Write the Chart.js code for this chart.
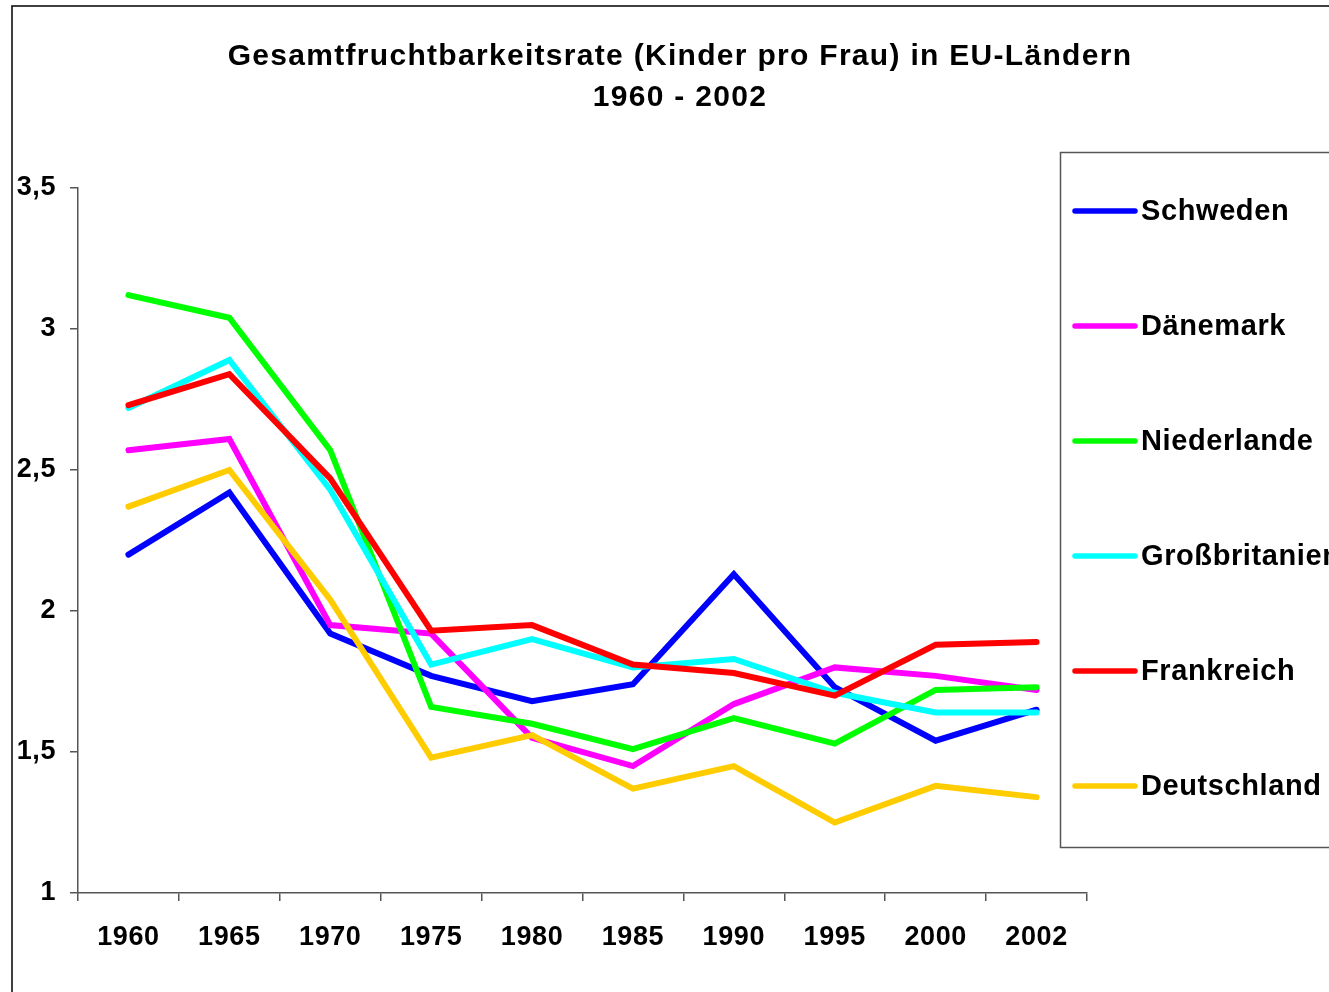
<!DOCTYPE html>
<html>
<head>
<meta charset="utf-8">
<script src="https://cdn.jsdelivr.net/npm/chart.js@4.4.1/dist/chart.umd.min.js"></script>
<style>
  html, body { margin: 0; padding: 0; background: #fff; overflow: hidden; }
  #wrap { width: 1329px; height: 992px; }
</style>
</head>
<body>
<div id="wrap"><canvas id="fertilityChart" width="1329" height="992"></canvas></div>
<script>
// Gesamtfruchtbarkeitsrate, Werte
const years = ['1960', '1965', '1970', '1975', '1980', '1985', '1990', '1995', '2000', '2002'];
const schweden     = [2.20, 2.42, 1.92, 1.77, 1.68, 1.74, 2.13, 1.73, 1.54, 1.65];
const daenemark    = [2.57, 2.61, 1.95, 1.92, 1.55, 1.45, 1.67, 1.80, 1.77, 1.72];
const niederlande  = [3.12, 3.04, 2.57, 1.66, 1.60, 1.51, 1.62, 1.53, 1.72, 1.73];
const grossbrit    = [2.72, 2.89, 2.43, 1.81, 1.90, 1.80, 1.83, 1.71, 1.64, 1.64];
const frankreich   = [2.73, 2.84, 2.47, 1.93, 1.95, 1.81, 1.78, 1.70, 1.88, 1.89];
const deutschland  = [2.37, 2.50, 2.04, 1.48, 1.56, 1.37, 1.45, 1.25, 1.38, 1.34];

const countryNames = ['Schweden', 'Dänemark', 'Niederlande', 'Großbritanien', 'Frankreich', 'Deutschland'];
const countryColors = ['#0000FF', '#FF00FF', '#00FF00', '#00FFFF', '#FF0000', '#FFCC00'];
const seriesValues = [schweden, daenemark, niederlande, grossbrit, frankreich, deutschland];

const titleLines = ['Gesamtfruchtbarkeitsrate (Kinder pro Frau) in EU-Ländern', '1960 - 2002'];

const FONT = '"Liberation Sans", Arial, sans-serif';
const AXIS_COLOR = '#555';

// etwas Buchstabenabstand wie bei Excel fuer die Achsenbeschriftung
const letterSpacing = {
  id: 'letterSpacing',
  beforeDraw(chart) {
    chart.ctx.letterSpacing = '0.6px';
  }
};

// Rahmen, Titel und Legende werden von Hand gezeichnet (Excel-Optik)
const excelDecor = {
  id: 'excelDecor',
  afterDraw(chart) {
    const ctx = chart.ctx;
    ctx.save();

    // Außenrahmen
    ctx.strokeStyle = '#000';
    ctx.lineWidth = 1.5;
    ctx.strokeRect(12, 6, 1400, 1100);

    // Titel
    ctx.fillStyle = '#000';
    ctx.font = 'bold 30px ' + FONT;
    ctx.letterSpacing = '1.3px';
    ctx.textAlign = 'center';
    ctx.textBaseline = 'middle';
    ctx.fillText(titleLines[0], 680, 57);
    ctx.fillText(titleLines[1], 680, 98);

    // Legende
    ctx.strokeStyle = AXIS_COLOR;
    ctx.lineWidth = 1.5;
    ctx.strokeRect(1060.5, 152.5, 400, 695);

    ctx.textAlign = 'left';
    ctx.font = 'bold 29px ' + FONT;
    ctx.letterSpacing = '0.6px';
    chart.data.datasets.forEach((ds, i) => {
      const y = 211 + i * 115;
      ctx.strokeStyle = ds.borderColor;
      ctx.lineWidth = 5.5;
      ctx.lineCap = 'round';
      ctx.beginPath();
      ctx.moveTo(1075, y);
      ctx.lineTo(1135, y);
      ctx.stroke();
      ctx.fillStyle = '#000';
      ctx.fillText(ds.label, 1141, y + 1);
    });

    ctx.restore();
    ctx.letterSpacing = '0px';
  }
};

const ctx = document.getElementById('fertilityChart');

new Chart(ctx, {
  type: 'line',
  data: {
    labels: years,
    datasets: seriesValues.map((vals, i) => ({
      label: countryNames[i],
      data: vals,
      borderColor: countryColors[i],
      backgroundColor: countryColors[i],
      borderWidth: 6,
      borderCapStyle: 'round',
      borderJoinStyle: 'miter',
      pointRadius: 0,
      tension: 0,
      fill: false,
      // Excel: spätere Reihen liegen oben
      order: seriesValues.length - 1 - i
    }))
  },
  options: {
    responsive: false,
    animation: false,
    devicePixelRatio: 1,
    layout: {
      padding: { left: 0, top: 188, right: 242, bottom: 0 }
    },
    plugins: {
      legend: { display: false },
      title: { display: false },
      tooltip: { enabled: false }
    },
    scales: {
      x: {
        offset: true,
        grid: {
          offset: true,
          drawOnChartArea: false,
          drawTicks: true,
          tickLength: 8,
          color: AXIS_COLOR,
          lineWidth: 1.5
        },
        border: { display: true, color: AXIS_COLOR, width: 1.5 },
        ticks: {
          color: '#000',
          padding: 20,
          maxRotation: 0,
          font: { family: FONT, size: 27, weight: 'bold' }
        },
        afterFit(scale) {
          scale.height = 99;
        }
      },
      y: {
        min: 1,
        max: 3.5,
        grid: {
          drawOnChartArea: false,
          drawTicks: true,
          tickLength: 8,
          color: AXIS_COLOR,
          lineWidth: 1.5
        },
        border: { display: true, color: AXIS_COLOR, width: 1.5 },
        ticks: {
          stepSize: 0.5,
          color: '#000',
          padding: 14,
          font: { family: FONT, size: 27, weight: 'bold' },
          callback: function(value) {
            return value.toString().replace('.', ',');
          }
        },
        afterFit(scale) {
          scale.width = 78;
        }
      }
    }
  },
  plugins: [letterSpacing, excelDecor]
});
</script>
</body>
</html>
